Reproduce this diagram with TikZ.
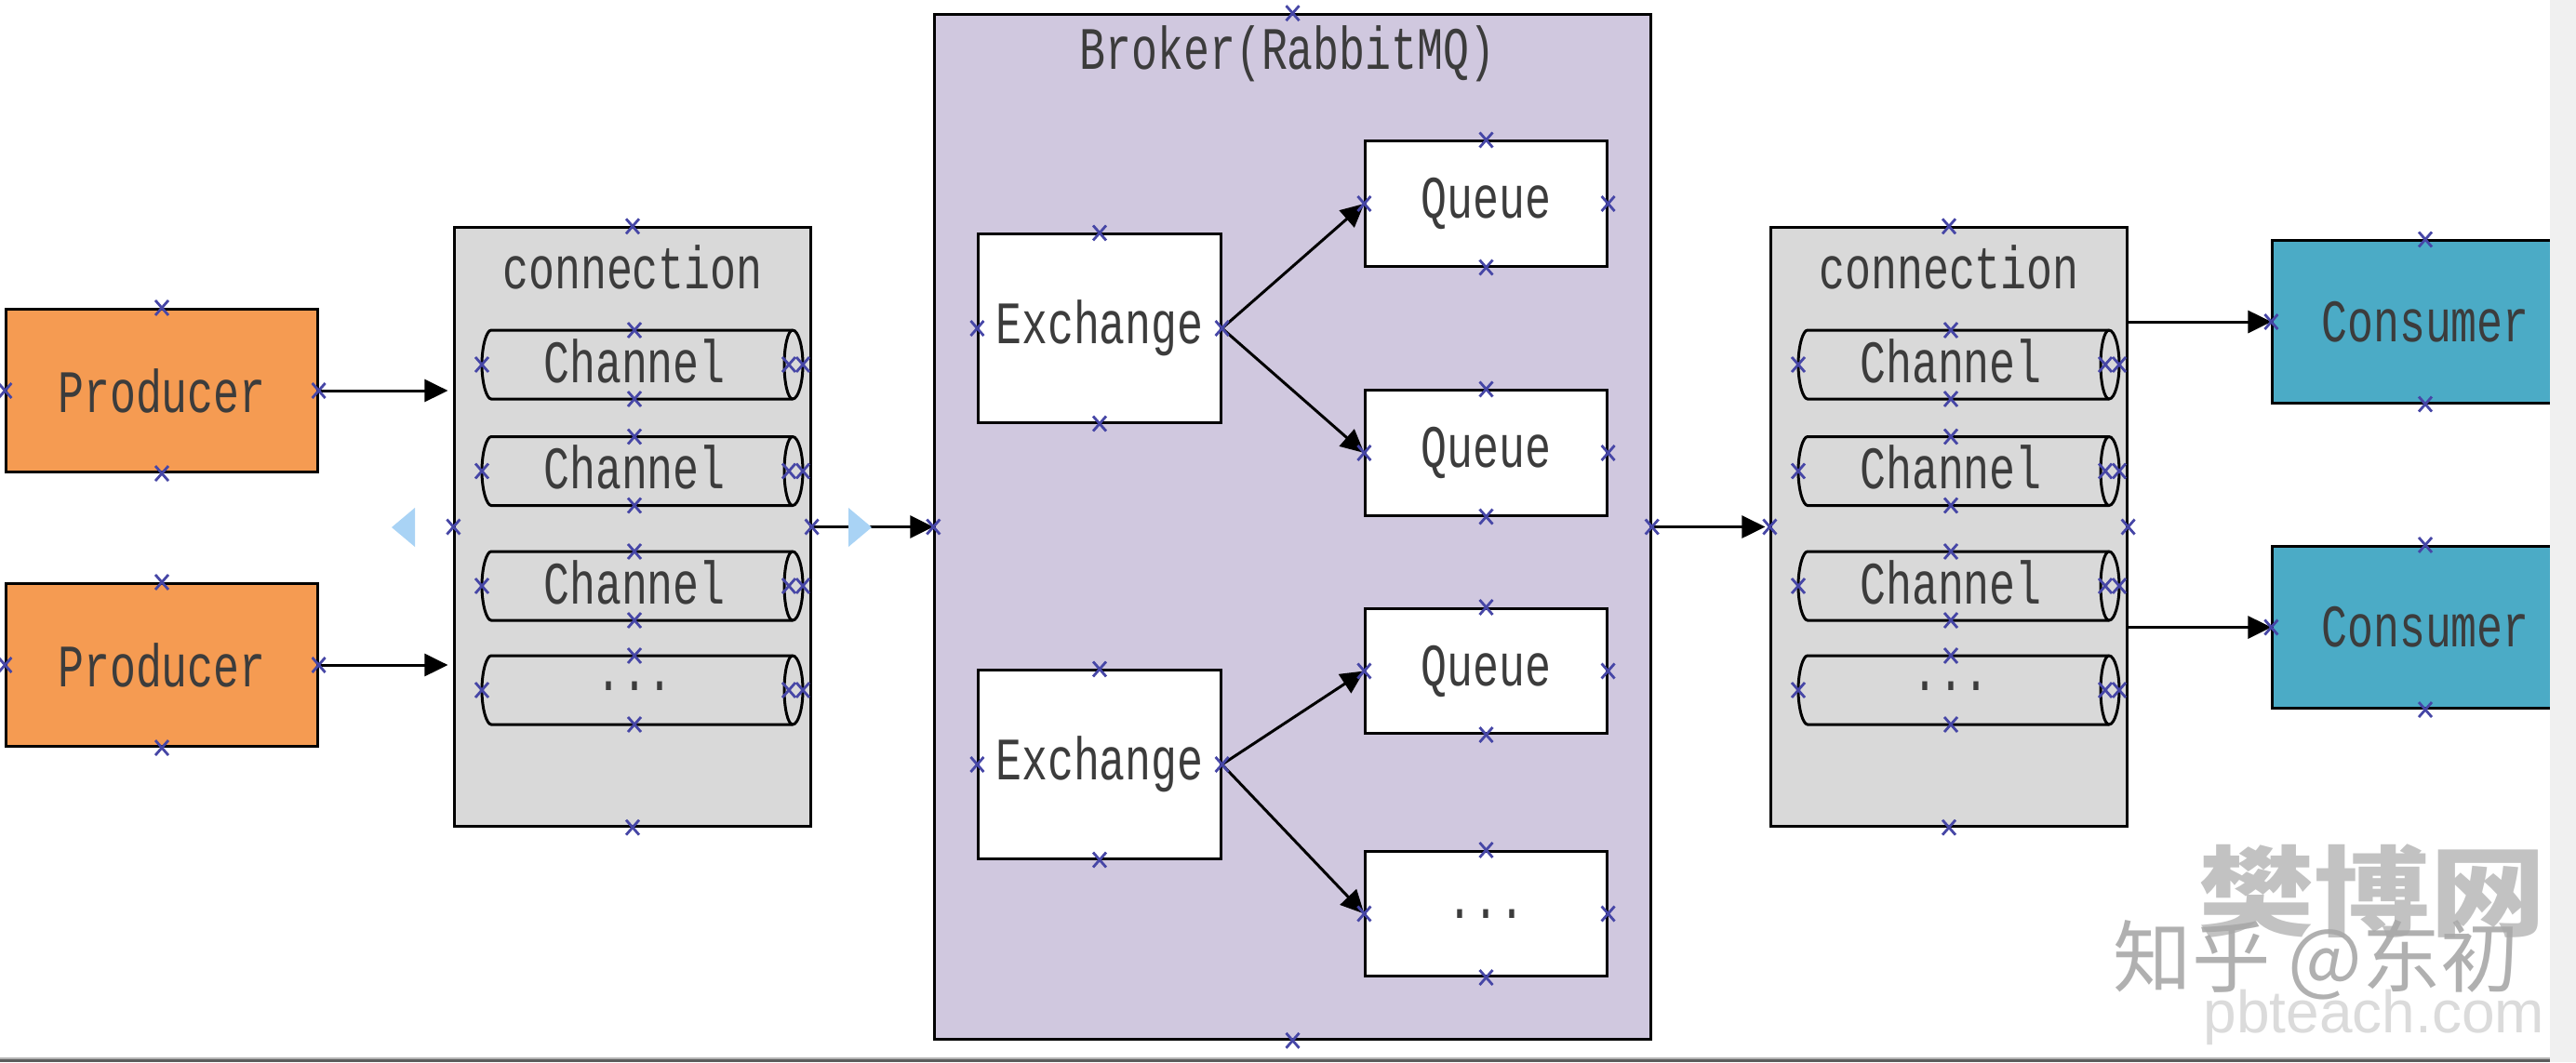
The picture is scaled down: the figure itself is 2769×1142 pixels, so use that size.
\documentclass[tikz,border=0pt]{standalone}
\usepackage{fontspec}
\usepackage{graphicx}
\setmainfont{Liberation Serif}
\newfontfamily\lblfont[FakeStretch=0.72]{Liberation Mono}
\newfontfamily\cjkfont{Noto Sans CJK SC}
\newfontfamily\wmfont{Liberation Sans}
\usetikzlibrary{arrows.meta}
\definecolor{prodfill}{HTML}{F59B52}
\definecolor{consfill}{HTML}{4BABC6}
\definecolor{connfill}{HTML}{D9D9D9}
\definecolor{brokerfill}{HTML}{D0C8DF}
\definecolor{mkcol}{HTML}{4646A6}
\definecolor{txtcol}{HTML}{3C3C3C}
\definecolor{tricol}{HTML}{A9D3F5}
\definecolor{stripcol}{HTML}{F0F0F0}
\definecolor{botline}{HTML}{5C5C5C}
\newcommand\lbl{\lblfont\fontsize{18.4}{22}\selectfont}
\newcommand\chan[4]{%
  \filldraw[fill=connfill, draw=black, line width=0.03cm]
    ({#2-154},{#3-37}) .. controls ({#2-159},{#3-37}) and ({#2-164},{#3-20}) .. ({#2-164},{#3})
    .. controls ({#2-164},{#3+20}) and ({#2-159},{#3+37}) .. ({#2-154},{#3+37})
    -- ({#2+170},{#3+37})
    .. controls ({#2+176},{#3+37}) and ({#2+181},{#3+20}) .. ({#2+181},{#3})
    .. controls ({#2+181},{#3-20}) and ({#2+176},{#3-37}) .. ({#2+170},{#3-37}) -- cycle;
  \draw[black, line width=0.03cm]
    ({#2+170},{#3-37}) .. controls ({#2+165},{#3-37}) and ({#2+161},{#3-20}) .. ({#2+161},{#3})
    .. controls ({#2+161},{#3+20}) and ({#2+165},{#3+37}) .. ({#2+170},{#3+37});
  \node[chantext] (#1) at (#2,{#3-4}) {#4};
  \pic at (#2,{#3-37}) {mk};
  \pic at (#2,{#3+37}) {mk};
  \pic at ({#2-164},#3) {mk};
  \pic at ({#2+166},#3) {mk};
  \pic at ({#2+181},#3) {mk};
}
\tikzset{
  mk/.pic={\draw[mkcol, line width=0.028cm] (-7,-8)--(7,8) (-7,8)--(7,-8);},
  box/.style={draw=black, line width=0.03cm, rectangle, inner sep=0pt, font=\lbl, text=txtcol},
  chantext/.style={inner sep=0pt, font=\lbl, text=txtcol},
  ttl/.style={inner sep=0pt, font=\lbl, text=txtcol},
  arr/.style={line width=0.03cm, -{Triangle[length=0.25cm,width=0.24cm]}},
}
\begin{document}
\begin{tikzpicture}[x=0.01cm,y=-0.01cm]
\useasboundingbox (0,0) rectangle (2769,1142);
\fill[white] (0,0) rectangle (2769,1142);

% watermarks
\node[inner sep=0pt, anchor=base, text=black!24, font=\cjkfont\bfseries\fontsize{30}{34}\selectfont] (wm1) at (2550,998) {\scalebox{1.18}[1]{樊博网}};
\node[inner sep=0pt, anchor=base, text=black!34, opacity=0.9, font=\cjkfont\fontsize{24}{28}\selectfont] (wm2) at (2490,1060) {知乎 @东初};
\node[inner sep=0pt, anchor=base, text=black!14, font=\wmfont\fontsize{18.2}{22}\selectfont] (wm3) at (2552,1110) {pbteach.com};

% broker
\node[box, fill=brokerfill, minimum width=7.69cm, minimum height=11.01cm] (broker) at (1389.5,566.5) {};
\node[ttl] (brokert) at (1384,58) {Broker(RabbitMQ)};

% producers
\node[box, fill=prodfill, minimum width=3.34cm, minimum height=1.75cm] (prod1) at (174,420) {Producer};
\node[box, fill=prodfill, minimum width=3.34cm, minimum height=1.75cm] (prod2) at (174,715) {Producer};

% connections
\node[box, fill=connfill, minimum width=3.82cm, minimum height=6.43cm] (lconn) at (680,566.5) {};
\node[ttl] (lconnt) at (680,287) {connection};
\node[box, fill=connfill, minimum width=3.82cm, minimum height=6.43cm] (rconn) at (2095,566.5) {};
\node[ttl] (rconnt) at (2095,287) {connection};

% exchanges and queues
\node[box, fill=white, minimum width=2.60cm, minimum height=2.02cm] (ex1) at (1182,353) {Exchange};
\node[box, fill=white, minimum width=2.60cm, minimum height=2.02cm] (ex2) at (1182,822) {Exchange};
\node[box, fill=white, minimum width=2.59cm, minimum height=1.34cm] (q1) at (1597.5,219) {Queue};
\node[box, fill=white, minimum width=2.59cm, minimum height=1.34cm] (q2) at (1597.5,487) {Queue};
\node[box, fill=white, minimum width=2.59cm, minimum height=1.34cm] (q3) at (1597.5,721.5) {Queue};
\node[box, fill=white, minimum width=2.59cm, minimum height=1.34cm] (q4) at (1597.5,982.5) {...};

% consumers
\node[box, fill=consfill, minimum width=3.28cm, minimum height=1.74cm] (cons1) at (2607,346) {Consumer};
\node[box, fill=consfill, minimum width=3.28cm, minimum height=1.74cm] (cons2) at (2607,674.5) {Consumer};

% channels
\chan{lch1}{682}{392}{Channel}
\chan{lch2}{682}{506.5}{Channel}
\chan{lch3}{682}{630}{Channel}
\chan{lch4}{682}{742}{...}
\chan{rch1}{2097}{392}{Channel}
\chan{rch2}{2097}{506.5}{Channel}
\chan{rch3}{2097}{630}{Channel}
\chan{rch4}{2097}{742}{...}

% connectors
\draw[arr, shorten >=0.06cm] (prod1.east) -- (prod1.east -| lconn.west);
\draw[arr, shorten >=0.06cm] (prod2.east) -- (prod2.east -| lconn.west);
\draw[arr] (lconn.east) -- (broker.west);
\draw[arr, shorten >=0.05cm] (broker.east) -- (rconn.west);
\draw[arr] (ex1.east) -- (q1.west);
\draw[arr] (ex1.east) -- (q2.west);
\draw[arr] (ex2.east) -- (q3.west);
\draw[arr] (ex2.east) -- (q4.west);
\draw[arr] (rconn.east |- cons1.west) -- (cons1.west);
\draw[arr] (rconn.east |- cons2.west) -- (cons2.west);

% selection triangles
\fill[tricol] (421,567) -- (446,546) -- (446,588) -- cycle;
\fill[tricol] (912,546) -- (937,567) -- (912,588) -- cycle;

% connection point markers
\foreach \n in {prod1,prod2,lconn,broker,ex1,ex2,q1,q2,q3,q4,rconn}{
  \foreach \a in {north,south,east,west}{\pic at (\n.\a) {mk};}}
\foreach \n in {cons1,cons2}{
  \foreach \a in {north,south,west}{\pic at (\n.\a) {mk};}}

% screenshot edges
\fill[stripcol] (2741,0) rectangle (2769,1142);
\fill[black!30] (0,1136.5) rectangle (2741,1138.5);
\fill[botline] (0,1138.5) rectangle (2741,1142);
\end{tikzpicture}
\end{document}
